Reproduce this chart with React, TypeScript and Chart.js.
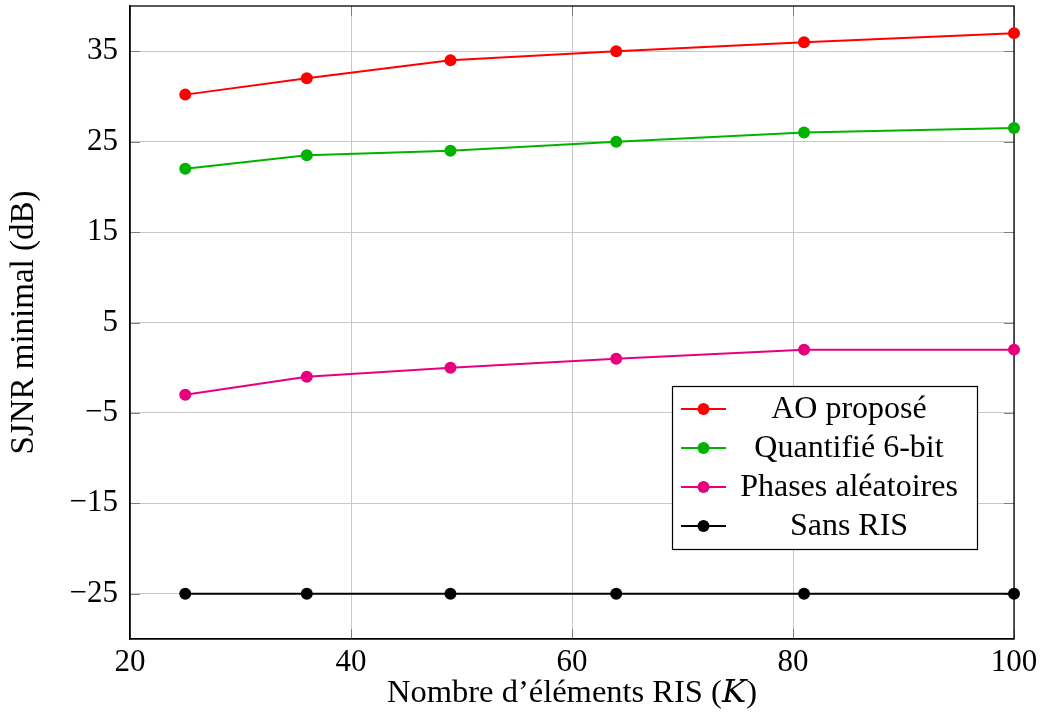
import React, { useEffect, useRef } from "react";
import { Chart, registerables } from "chart.js";

Chart.register(...registerables);

const K = [25, 36, 49, 64, 81, 100];
const aoPropose = [30.2, 32, 34, 35, 36, 37];
const quantifie = [22, 23.5, 24, 25, 26, 26.5];
const phasesAleatoires = [-3, -1, 0, 1, 2, 2];
const sansRIS = [-25, -25, -25, -25, -25, -25];
const seriesLabels = ["AO proposé", "Quantifié 6-bit", "Phases aléatoires", "Sans RIS"];
const seriesColors = ["#ff0000", "#00b300", "#e6007e", "#000000"];
const xTicks = [20, 40, 60, 80, 100];
const yTicks = [-25, -15, -5, 5, 15, 25, 35];
const xTitle = "Nombre d’éléments RIS (𝐾)";
const yTitle = "SJNR minimal (dB)";

const FONT = "'Liberation Serif', 'DejaVu Serif', serif";

const framePlugin = {
  id: "frame",
  beforeDatasetsDraw(chart: any) {
    const { ctx, chartArea: a, scales } = chart;
    ctx.save();
    ctx.strokeStyle = "#7f7f7f";
    ctx.lineWidth = 1;
    const tl = 10;
    for (const v of yTicks) {
      const y = Math.round(scales.y.getPixelForValue(v)) + 0.5;
      ctx.beginPath();
      ctx.moveTo(a.left, y);
      ctx.lineTo(a.left + tl, y);
      ctx.moveTo(a.right, y);
      ctx.lineTo(a.right - tl, y);
      ctx.stroke();
    }
    for (const v of xTicks) {
      const x = Math.round(scales.x.getPixelForValue(v)) + 0.5;
      ctx.beginPath();
      ctx.moveTo(x, a.bottom);
      ctx.lineTo(x, a.bottom - tl);
      ctx.moveTo(x, a.top);
      ctx.lineTo(x, a.top + tl);
      ctx.stroke();
    }
    ctx.strokeStyle = "#000";
    ctx.lineWidth = 1.3;
    ctx.strokeRect(a.left, a.top, a.right - a.left, a.bottom - a.top);
    ctx.restore();
  },
};

const legendPlugin = {
  id: "boxLegend",
  afterDraw(chart: any) {
    const { ctx, chartArea: a } = chart;
    const w = 305;
    const h = 163;
    const right = a.right - 37;
    const bottom = a.bottom - 90;
    const left = right - w;
    const top = bottom - h;
    ctx.save();
    ctx.fillStyle = "#fff";
    ctx.fillRect(left, top, w, h);
    ctx.strokeStyle = "#000";
    ctx.lineWidth = 1.2;
    ctx.strokeRect(left + 0.5, top + 0.5, w, h);
    chart.data.datasets.forEach((ds: any, i: number) => {
      const y = top + 23 + i * 39;
      ctx.strokeStyle = ds.borderColor;
      ctx.lineWidth = 2;
      ctx.beginPath();
      ctx.moveTo(left + 9, y);
      ctx.lineTo(left + 54, y);
      ctx.stroke();
      ctx.fillStyle = ds.borderColor;
      ctx.beginPath();
      ctx.arc(left + 31.5, y, 6, 0, Math.PI * 2);
      ctx.fill();
      ctx.fillStyle = "#000";
      ctx.font = `32px ${FONT}`;
      ctx.textAlign = "center";
      ctx.textBaseline = "middle";
      ctx.fillText(ds.label, left + 177, y + 1);
    });
    ctx.restore();
  },
};

export default function App() {
  const ref = useRef<HTMLCanvasElement | null>(null);
  useEffect(() => {
    if (!ref.current) return;
    const series = [aoPropose, quantifie, phasesAleatoires, sansRIS];
    const chart = new Chart(ref.current, {
      type: "line",
      data: {
        datasets: series.map((vals, i) => ({
          label: seriesLabels[i],
          data: K.map((k, j) => ({ x: k, y: vals[j] })),
          borderColor: seriesColors[i],
          backgroundColor: seriesColors[i],
          borderWidth: 2,
          pointRadius: 6,
          pointHoverRadius: 6,
          pointBorderWidth: 0,
          pointBackgroundColor: seriesColors[i],
          fill: false,
          tension: 0,
          clip: false as any,
        })),
      },
      options: {
        animation: false,
        responsive: false,
        maintainAspectRatio: false,
        layout: { padding: { top: 6, right: 27, left: 0, bottom: 0 } },
        plugins: {
          legend: { display: false },
          tooltip: { enabled: false },
        },
        scales: {
          x: {
            type: "linear",
            min: 20,
            max: 100,
            afterBuildTicks: (s: any) => {
              s.ticks = xTicks.map((v) => ({ value: v }));
            },
            afterFit: (s: any) => {
              s.height = 84;
              s.paddingLeft = 0;
              s.paddingRight = 0;
            },
            ticks: {
              color: "#000",
              font: { family: FONT, size: 31 },
              padding: 5,
              maxRotation: 0,
              autoSkip: false,
            },
            grid: { color: "#c8c8c8", lineWidth: 1, drawTicks: false },
            border: { display: true, color: "#000", width: 1.3 },
            title: {
              display: true,
              text: xTitle,
              color: "#000",
              font: { family: FONT, size: 32.5 },
              padding: { top: 0, bottom: 10 },
            },
          },
          y: {
            type: "linear",
            min: -30,
            max: 40,
            afterBuildTicks: (s: any) => {
              s.ticks = yTicks.map((v) => ({ value: v }));
            },
            afterFit: (s: any) => {
              s.width = 130;
              s.paddingTop = 0;
              s.paddingBottom = 0;
            },
            ticks: {
              color: "#000",
              font: { family: FONT, size: 31 },
              padding: 12,
              autoSkip: false,
              callback: (v: any) => (v < 0 ? "−" + Math.abs(v) : String(v)),
            },
            grid: { color: "#c8c8c8", lineWidth: 1, drawTicks: false },
            border: { display: true, color: "#000", width: 1.3 },
            title: {
              display: true,
              text: yTitle,
              color: "#000",
              font: { family: FONT, size: 33 },
              padding: { top: 5, bottom: 0 },
            },
          },
        },
      },
      plugins: [framePlugin, legendPlugin],
    });
    return () => chart.destroy();
  }, []);
  return (
    <div style={{ position: "absolute", left: 0, top: 0, width: 1041, height: 723 }}>
      <canvas ref={ref} width={1041} height={723} style={{ width: 1041, height: 723, display: "block" }} />
    </div>
  );
}
